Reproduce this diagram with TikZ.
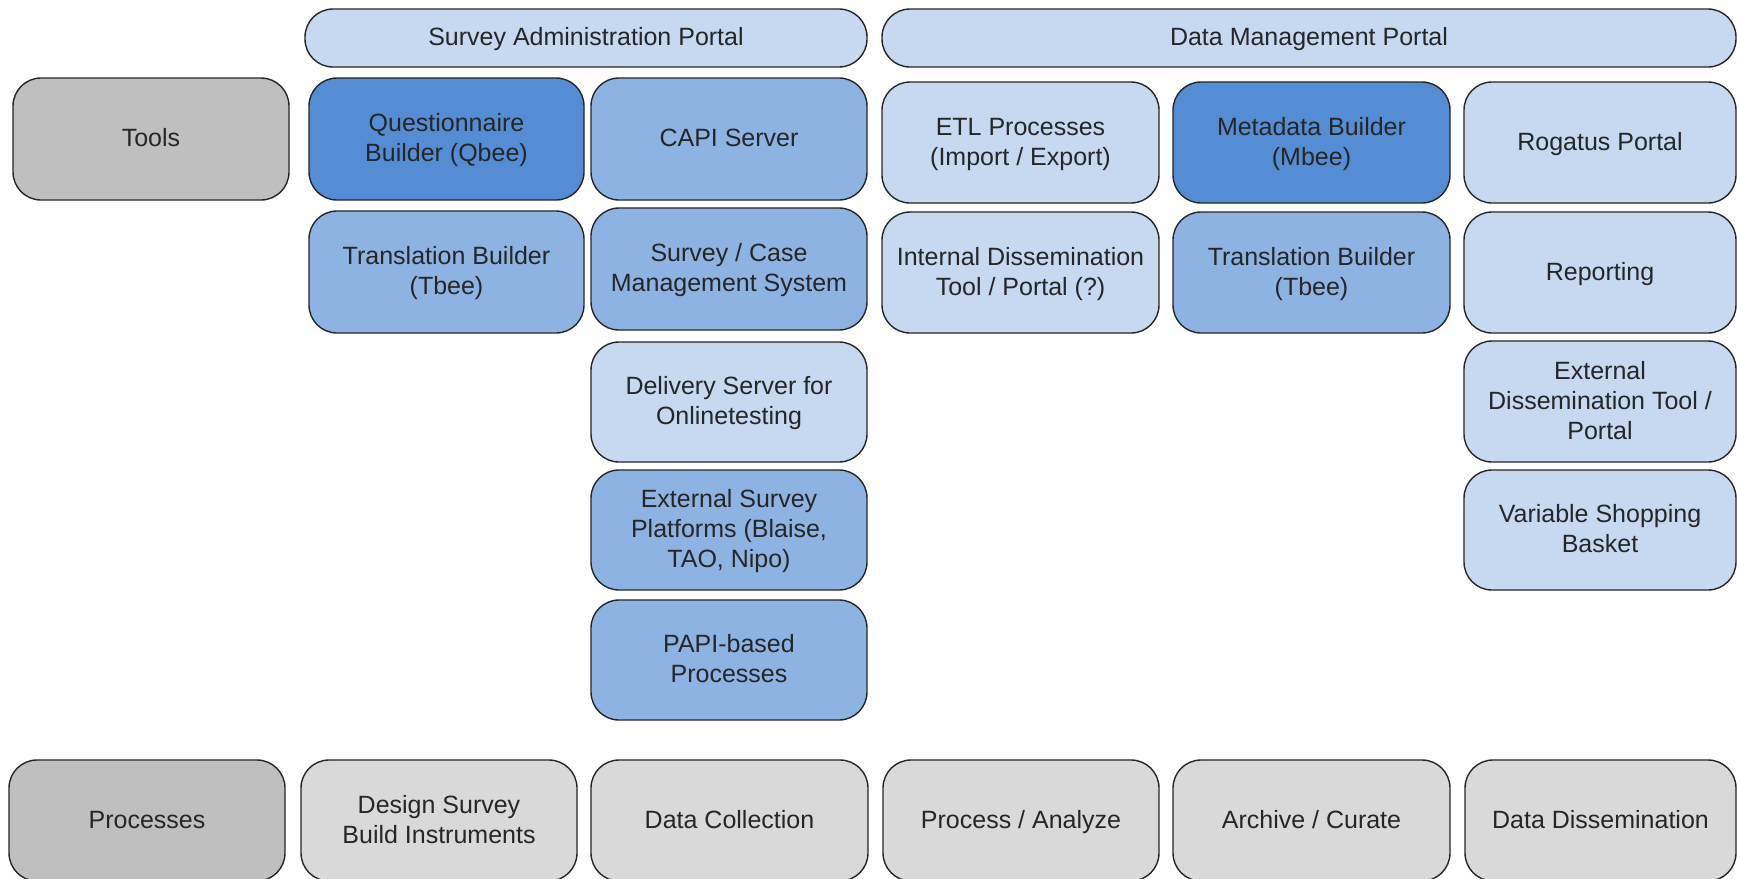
\documentclass[tikz,border=0pt]{standalone}
\usepackage{fontspec}
\setmainfont{Liberation Sans}
\newcommand\ts{\rule[-4.5pt]{0pt}{16.5pt}}
\newcommand\bs{\rule[-4.5pt]{0pt}{4.5pt}}
\begin{document}
\begin{tikzpicture}[x=0.5pt,y=-0.5pt,
  box/.style={draw=black!85, line width=0.7pt, rounded corners=14pt, align=center,
    inner sep=0pt, font=\fontsize{12.5}{15}\selectfont, text=black!85,
    minimum width=138pt, minimum height=61pt},
  dark/.style={box, fill=blueD},
  med/.style={box, fill=blueM},
  light/.style={box, fill=blueL},
  greyD/.style={box, fill=greyA},
  greyL/.style={box, fill=greyB},
  portal/.style={box, fill=blueL, minimum height=29pt}]
\definecolor{blueD}{HTML}{548DD4}
\definecolor{blueM}{HTML}{8DB3E2}
\definecolor{blueL}{HTML}{C6D9F1}
\definecolor{greyA}{HTML}{BFBFBF}
\definecolor{greyB}{HTML}{D9D9D9}
\useasboundingbox[fill=white] (0,0) rectangle (1737,879);
\clip (0,0) rectangle (1737,879);
% portals
\node[portal, minimum width=281pt] (portalA) at (586,38) {\ts Survey Administration Portal\bs};
\node[portal, minimum width=427pt] (portalB) at (1309,38) {\ts Data Management Portal\bs};
% row 1
\node[greyD] (tools) at (151,139) {\ts Tools\bs};
\node[dark, minimum width=137.5pt] (qbee) at (446.5,139) {\ts Questionnaire\\Builder (Qbee)\bs};
\node[med] (capi) at (729,139) {\ts CAPI Server\bs};
\node[light, minimum width=138.5pt, minimum height=60.5pt] (etl) at (1020.5,142.5) {\ts ETL Processes\\(Import / Export)\bs};
\node[dark, minimum width=138.5pt, minimum height=60.5pt] (mbee) at (1311.5,142.5) {\ts Metadata Builder\\(Mbee)\bs};
\node[light, minimum width=136pt, minimum height=60.5pt] (rogatus) at (1600,142.5) {\ts Rogatus Portal\bs};
% row 2
\node[med, minimum width=137.5pt] (tbeeA) at (446.5,272) {\ts Translation Builder\\(Tbee)\bs};
\node[med] (survcase) at (729,269) {\ts Survey / Case\\Management System\bs};
\node[light, minimum width=138.5pt, minimum height=60.5pt] (intdis) at (1020.5,272.5) {\ts Internal Dissemination\\Tool / Portal (?)\bs};
\node[med, minimum width=138.5pt, minimum height=60.5pt] (tbeeB) at (1311.5,272.5) {\ts Translation Builder\\(Tbee)\bs};
\node[light, minimum width=136pt, minimum height=60.5pt] (reporting) at (1600,272.5) {\ts Reporting\bs};
% row 3+
\node[light, minimum height=60pt] (delivery) at (729,402) {\ts Delivery Server for\\Onlinetesting\bs};
\node[light, minimum width=136pt, minimum height=60.5pt] (extdis) at (1600,401.5) {\ts External\\Dissemination Tool /\\Portal\bs};
\node[med, minimum height=60pt] (extsurv) at (729,530) {\ts External Survey\\Platforms (Blaise,\\TAO, Nipo)\bs};
\node[light, minimum width=136pt, minimum height=60pt] (vsb) at (1600,530) {\ts Variable Shopping\\Basket\bs};
\node[med, minimum height=60pt] (papi) at (729,660) {\ts PAPI-based\\Processes\bs};
% bottom row
\node[greyD, minimum height=60.5pt] (processes) at (147,820.5) {\ts Processes\bs};
\node[greyL, minimum height=60.5pt] (design) at (439,820.5) {\ts Design Survey\\Build Instruments\bs};
\node[greyL, minimum width=138.5pt, minimum height=60.5pt] (datacoll) at (729.5,820.5) {\ts Data Collection\bs};
\node[greyL, minimum height=60.5pt] (procan) at (1021,820.5) {\ts Process / Analyze\bs};
\node[greyL, minimum width=138.5pt, minimum height=60.5pt] (archive) at (1311.5,820.5) {\ts Archive / Curate\bs};
\node[greyL, minimum width=135.5pt, minimum height=60.5pt] (datadiss) at (1600.5,820.5) {\ts Data Dissemination\bs};
\end{tikzpicture}
\end{document}
